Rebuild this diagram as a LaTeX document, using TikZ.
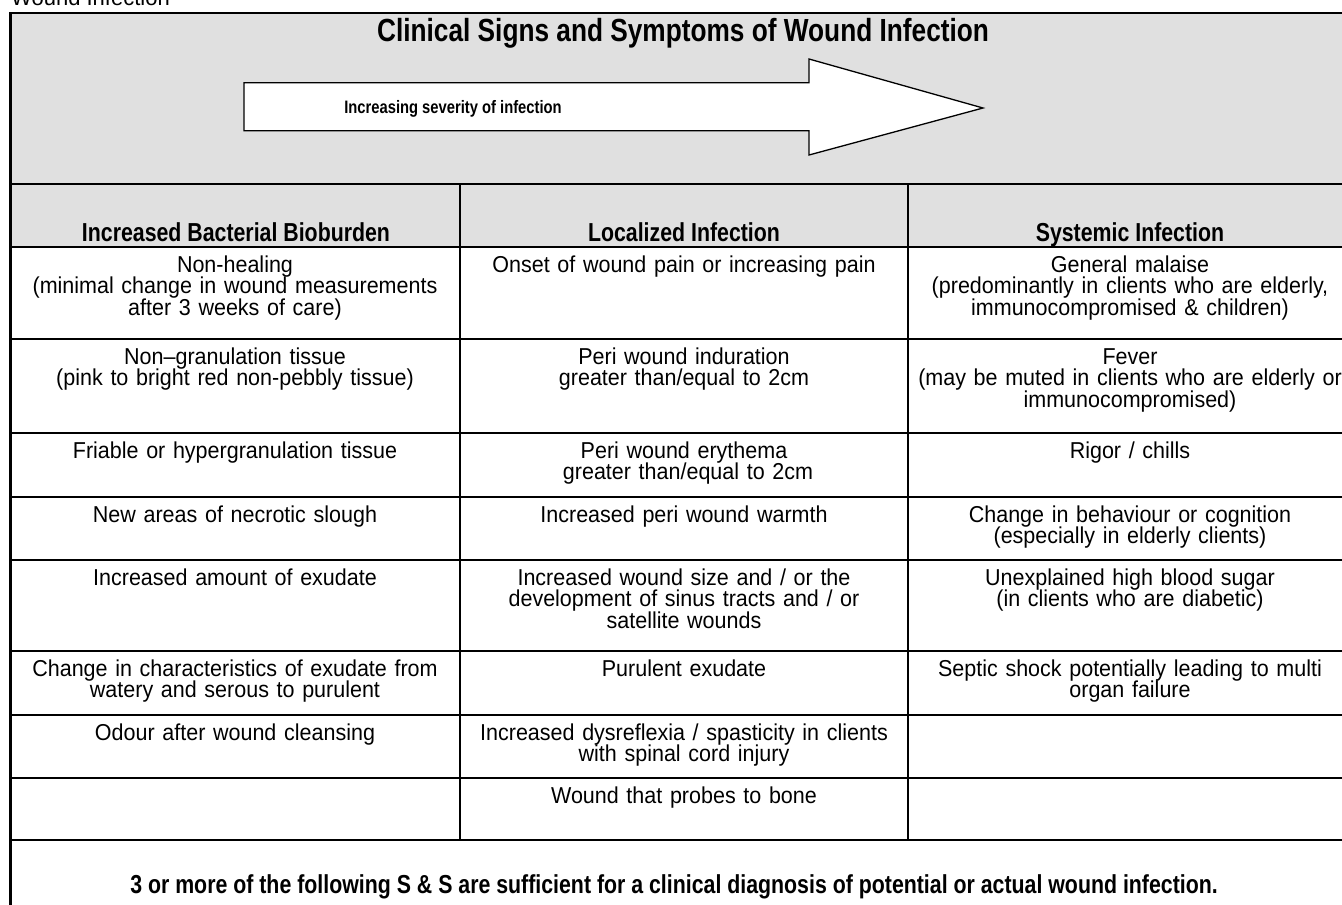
\documentclass[tikz,border=0pt]{standalone}
\usepackage{fontspec}
\setmainfont{Liberation Sans}
\newfontfamily\nb[FakeStretch=0.82,Ligatures=TeX]{Liberation Sans}
\newfontfamily\bodyfont[FakeStretch=0.935,Ligatures=TeX]{Liberation Sans}
\definecolor{hdrgray}{RGB}{224,224,224}
\tikzset{
  frameline/.style={line width=2.2pt},
  ruleline/.style={line width=1.8pt},
  gridline/.style={line width=1.1pt},
  cell/.style={anchor=base, align=center, text width=480pt, inner sep=0pt,
    font=\bodyfont\fontsize{23}{21.7}\selectfont},
  colhead/.style={anchor=base, inner sep=0pt, font=\nb\bfseries\fontsize{26}{28}\selectfont},
}
\begin{document}
\begin{tikzpicture}[x=1pt,y=-1pt]
\useasboundingbox (0,0) rectangle (1342,905);
% header background
\fill[hdrgray] (10.5,13) rectangle (1352,247);
% grid
\foreach \yy in {339,433,497,560,651,715,778}
  \draw[gridline] (10.5,\yy) -- (1352,\yy);
\draw[gridline] (460,184) -- (460,840);
\draw[gridline] (908,184) -- (908,840);
\draw[ruleline] (10.5,184) -- (1352,184);
\draw[ruleline] (10.5,247) -- (1352,247);
\draw[frameline] (10.5,840) -- (1352,840);
\draw[frameline] (10.5,13) rectangle (1352,925);

% caption above
\node[anchor=base west, inner sep=0pt, font=\fontsize{22}{24}\selectfont] (cap) at (11,5) {Wound Infection};

% title
\node[anchor=base, inner sep=0pt, font=\nb\bfseries\fontsize{32}{34}\selectfont] (title) at (683,41)
  {Clinical Signs and Symptoms of Wound Infection};

% arrow
\draw[line width=1.3pt, fill=white, line join=miter]
  (244,82.7) -- (809,82.7) -- (809,59) -- (983,108) -- (809,155) -- (809,130.7) -- (244,130.7) -- cycle;
\node[anchor=base, inner sep=0pt, font=\nb\bfseries\fontsize{18}{20}\selectfont] (arrowtext) at (453,113)
  {Increasing severity of infection};

% column headers
\node[colhead] (h1) at (236,241) {Increased Bacterial Bioburden};
\node[colhead] (h2) at (684,241) {Localized Infection};
\node[colhead] (h3) at (1130,241) {Systemic Infection};

% column 1
\node[cell] (a1) at (235,272) {Non-healing\\(minimal change in wound measurements\\after 3 weeks of care)};
\node[cell] (a2) at (235,364) {Non–granulation tissue\\(pink to bright red non-pebbly tissue)};
\node[cell] (a3) at (235,458) {Friable or hypergranulation tissue};
\node[cell] (a4) at (235,522) {New areas of necrotic slough};
\node[cell] (a5) at (235,585) {Increased amount of exudate};
\node[cell] (a6) at (235,676) {Change in characteristics of exudate from\\watery and serous to purulent};
\node[cell] (a7) at (235,740) {Odour after wound cleansing};

% column 2
\node[cell] (b1) at (684,272) {Onset of wound pain or increasing pain};
\node[cell] (b2) at (684,364) {Peri wound induration\\greater than/equal to 2cm};
\node[cell] (b3) at (684,458) {Peri wound erythema\\\hspace*{0.35em}greater than/equal to 2cm};
\node[cell] (b4) at (684,522) {Increased peri wound warmth};
\node[cell] (b5) at (684,585) {Increased wound size and / or the\\development of sinus tracts and / or\\satellite wounds};
\node[cell] (b6) at (684,676) {Purulent exudate};
\node[cell] (b7) at (684,740) {Increased dysreflexia / spasticity in clients\\with spinal cord injury};
\node[cell] (b8) at (684,803) {Wound that probes to bone};

% column 3
\node[cell] (c1) at (1130,272) {General malaise\\(predominantly in clients who are elderly,\\immunocompromised \& children)};
\node[cell] (c2) at (1130,364) {Fever\\(may be muted in clients who are elderly or\\immunocompromised)};
\node[cell] (c3) at (1130,458) {Rigor / chills};
\node[cell] (c4) at (1130,522) {Change in behaviour or cognition\\(especially in elderly clients)};
\node[cell] (c5) at (1130,585) {Unexplained high blood sugar\\(in clients who are diabetic)};
\node[cell] (c6) at (1130,676) {Septic shock potentially leading to multi\\organ failure};

% footer
\node[colhead] (foot) at (674,893)
  {3 or more of the following S \& S are sufficient for a clinical diagnosis of potential or actual wound infection.};
\end{tikzpicture}
\end{document}
